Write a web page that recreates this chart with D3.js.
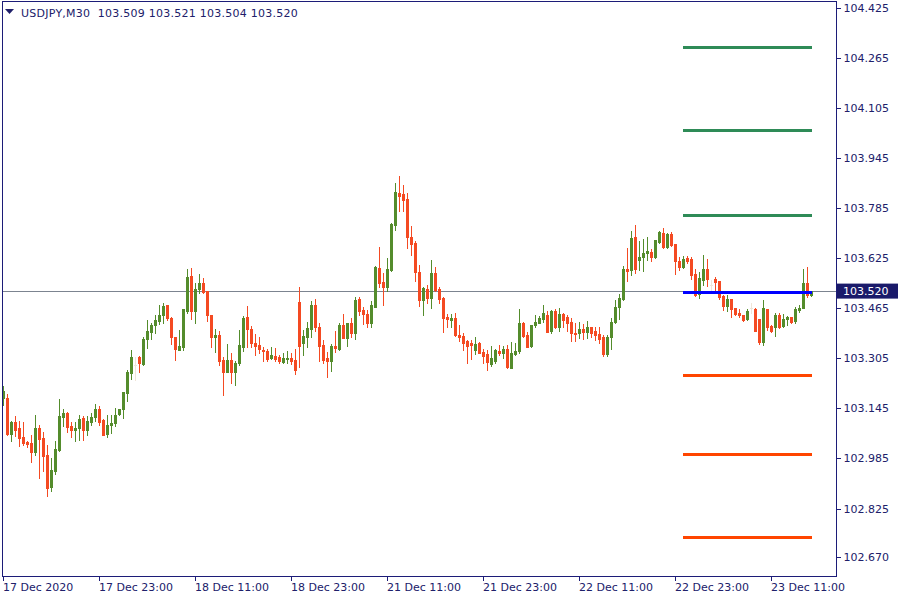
<!DOCTYPE html>
<html>
<head>
<meta charset="utf-8">
<script src="https://cdn.jsdelivr.net/npm/d3@7/dist/d3.min.js"></script>
<style>
  html, body { margin: 0; padding: 0; background: #ffffff; }
  svg { display: block; font-family: "DejaVu Sans", Verdana, sans-serif; }
</style>
</head>
<body>
<svg id="chart" width="900" height="600"></svg>
<script>
// ---------- DATA ----------
const symbolTitle = "USDJPY,M30";
const lastBar = ["103.509", "103.521", "103.504", "103.520"];

const opens = [103.178,103.178,103.063,103.101,103.082,103.053,103.037,103.034,103.005,103.082,
103.050,102.996,102.893,102.944,103.012,103.117,103.130,103.088,103.076,103.082,
103.114,103.076,103.101,103.117,103.143,103.108,103.063,103.092,103.098,103.127,
103.143,103.194,103.258,103.284,103.309,103.287,103.367,103.389,103.412,103.424,
103.444,103.476,103.434,103.373,103.332,103.341,103.456,103.568,103.456,103.527,
103.546,103.520,103.444,103.373,103.380,103.300,103.261,103.300,103.261,103.290,
103.341,103.437,103.399,103.354,103.348,103.332,103.328,103.306,103.312,103.309,
103.293,103.303,103.306,103.300,103.485,103.354,103.373,103.399,103.476,103.405,
103.348,103.306,103.296,103.344,103.335,103.412,103.370,103.418,103.386,103.495,
103.460,103.447,103.418,103.469,103.594,103.549,103.533,103.588,103.732,103.834,
103.831,103.815,103.693,103.674,103.581,103.492,103.527,103.498,103.578,103.527,
103.498,103.437,103.428,103.434,103.380,103.376,103.360,103.354,103.332,103.354,
103.325,103.319,103.287,103.296,103.328,103.322,103.335,103.274,103.319,103.328,
103.418,103.380,103.344,103.412,103.418,103.431,103.444,103.392,103.456,103.405,
103.447,103.437,103.421,103.386,103.386,103.399,103.389,103.405,103.392,103.383,
103.373,103.319,103.373,103.421,103.469,103.495,103.591,103.588,103.693,103.620,
103.629,103.642,103.645,103.629,103.677,103.706,103.661,103.703,103.671,103.616,
103.597,103.626,103.623,103.575,103.511,103.556,103.591,103.540,103.559,103.552,
103.504,103.472,103.495,103.466,103.450,103.444,103.431,103.466,103.463,103.431,
103.357,103.463,103.408,103.405,103.444,103.408,103.431,103.437,103.424,103.460,
103.466,103.546,103.509];

const highs = [103.216,103.191,103.104,103.120,103.104,103.101,103.040,103.060,103.124,103.092,
103.069,103.028,102.986,103.040,103.175,103.143,103.133,103.101,103.101,103.124,
103.120,103.120,103.130,103.159,103.152,103.111,103.124,103.124,103.146,103.143,
103.197,103.268,103.332,103.309,103.312,103.373,103.428,103.418,103.444,103.476,
103.482,103.476,103.437,103.373,103.396,103.463,103.591,103.594,103.546,103.575,
103.562,103.520,103.444,103.399,103.392,103.309,103.351,103.322,103.296,103.396,
103.440,103.472,103.408,103.383,103.373,103.341,103.335,103.341,103.338,103.316,
103.322,103.328,103.322,103.335,103.533,103.396,103.421,103.488,103.495,103.418,
103.364,103.325,103.351,103.392,103.418,103.447,103.418,103.434,103.501,103.501,
103.469,103.460,103.488,103.600,103.661,103.578,103.626,103.738,103.866,103.888,
103.860,103.834,103.728,103.680,103.604,103.533,103.540,103.620,103.597,103.533,
103.501,103.447,103.447,103.450,103.412,103.386,103.364,103.364,103.373,103.357,
103.335,103.332,103.344,103.335,103.348,103.344,103.348,103.357,103.354,103.463,
103.421,103.389,103.412,103.444,103.440,103.476,103.456,103.460,103.463,103.466,
103.450,103.444,103.434,103.418,103.421,103.415,103.424,103.405,103.405,103.405,
103.380,103.380,103.434,103.492,103.511,103.600,103.658,103.712,103.732,103.680,
103.687,103.693,103.655,103.684,103.712,103.722,103.706,103.709,103.671,103.629,
103.632,103.632,103.629,103.591,103.581,103.636,103.623,103.556,103.565,103.552,
103.508,103.508,103.495,103.466,103.463,103.444,103.463,103.482,103.466,103.431,
103.492,103.463,103.412,103.450,103.450,103.447,103.440,103.437,103.469,103.476,
103.591,103.597,103.521];

const lows = [103.156,103.060,103.040,103.056,103.024,103.028,103.021,102.973,102.996,102.922,
102.944,102.864,102.880,102.935,103.008,103.088,103.069,103.053,103.040,103.044,
103.044,103.060,103.092,103.104,103.092,103.060,103.053,103.066,103.088,103.124,
103.114,103.168,103.239,103.236,103.261,103.284,103.338,103.367,103.386,103.415,
103.418,103.428,103.351,103.300,103.332,103.332,103.450,103.431,103.418,103.514,
103.514,103.424,103.341,103.325,103.284,103.188,103.261,103.226,103.220,103.284,
103.328,103.341,103.341,103.316,103.322,103.296,103.296,103.303,103.296,103.290,
103.290,103.290,103.287,103.255,103.277,103.316,103.341,103.373,103.392,103.296,
103.290,103.245,103.264,103.325,103.332,103.370,103.344,103.373,103.367,103.444,
103.415,103.405,103.405,103.469,103.533,103.476,103.520,103.584,103.716,103.776,
103.776,103.658,103.636,103.552,103.472,103.444,103.482,103.466,103.520,103.482,
103.389,103.405,103.405,103.376,103.360,103.332,103.290,103.303,103.319,103.322,
103.290,103.268,103.280,103.290,103.316,103.306,103.274,103.274,103.316,103.322,
103.373,103.341,103.341,103.405,103.418,103.421,103.389,103.386,103.402,103.392,
103.405,103.392,103.360,103.360,103.370,103.367,103.370,103.373,103.364,103.354,
103.312,103.312,103.335,103.418,103.431,103.492,103.552,103.572,103.578,103.588,
103.584,103.620,103.616,103.626,103.674,103.658,103.658,103.664,103.575,103.588,
103.594,103.610,103.559,103.504,103.498,103.540,103.536,103.524,103.520,103.495,
103.460,103.456,103.437,103.444,103.437,103.424,103.428,103.450,103.392,103.351,
103.348,103.396,103.389,103.376,103.402,103.405,103.412,103.418,103.418,103.453,
103.466,103.501,103.504];

const closes = [103.200,103.063,103.101,103.076,103.050,103.034,103.031,103.005,103.082,103.047,
102.992,102.890,102.948,103.015,103.120,103.130,103.085,103.076,103.082,103.111,
103.076,103.104,103.117,103.143,103.101,103.060,103.092,103.098,103.124,103.143,
103.197,103.261,103.309,103.284,103.290,103.367,103.392,103.412,103.428,103.444,
103.472,103.434,103.373,103.335,103.344,103.463,103.565,103.456,103.527,103.546,
103.517,103.444,103.373,103.380,103.296,103.261,103.300,103.261,103.290,103.348,
103.434,103.399,103.354,103.344,103.335,103.328,103.303,103.316,103.303,103.296,
103.306,103.306,103.296,103.268,103.344,103.376,103.402,103.476,103.405,103.344,
103.300,103.296,103.344,103.338,103.412,103.370,103.418,103.386,103.492,103.456,
103.447,103.418,103.476,103.597,103.546,103.533,103.591,103.735,103.837,103.824,
103.812,103.693,103.671,103.581,103.492,103.530,103.498,103.578,103.524,103.495,
103.434,103.431,103.434,103.380,103.373,103.354,103.344,103.348,103.351,103.322,
103.312,103.293,103.306,103.332,103.322,103.335,103.277,103.322,103.328,103.418,
103.376,103.341,103.412,103.421,103.434,103.450,103.389,103.456,103.405,103.447,
103.428,103.418,103.386,103.383,103.399,103.389,103.405,103.386,103.380,103.367,
103.319,103.373,103.421,103.469,103.498,103.591,103.584,103.690,103.591,103.629,
103.642,103.648,103.629,103.684,103.709,103.661,103.703,103.668,103.616,103.597,
103.623,103.616,103.572,103.508,103.562,103.591,103.559,103.540,103.549,103.501,
103.472,103.495,103.463,103.447,103.444,103.428,103.456,103.466,103.392,103.357,
103.466,103.405,103.392,103.444,103.405,103.431,103.437,103.421,103.463,103.466,
103.546,103.508,103.520];

const timeLabels = ["17 Dec 2020","17 Dec 23:00","18 Dec 11:00","18 Dec 23:00","21 Dec 11:00",
                    "21 Dec 23:00","22 Dec 11:00","22 Dec 23:00","23 Dec 11:00"];
const timeLabelBars = [0, 24, 48, 72, 96, 120, 144, 168, 192];
const priceTicks = [104.425,104.265,104.105,103.945,103.785,103.625,103.465,103.305,103.145,102.985,102.825,102.670];

const resistanceLevels = [104.300, 104.032, 103.763];
const pivotLevel = 103.515;
const supportLevels = [103.249, 102.999, 102.731];
const levelStartBar = 170;
const currentPrice = 103.520;

// ---------- STYLE ----------
const navy = "#1c1c78";
const textCol = "#20206a";
const bullCol = "#548c2c";
const bearCol = "#f44a22";
const dojiCol = "#efe5d8";

// ---------- SCALES ----------
const n = closes.length;
const x = d3.scaleLinear().domain([0, n - 1]).range([3, 3 + 4 * (n - 1)]);
const y = d3.scaleLinear().domain([102.670, 104.425]).range([557, 8]);

const svg = d3.select("#chart");
const plotLeft = 2, plotRight = 836, plotTop = 1, plotBottom = 576;

svg.append("rect").attr("width", 900).attr("height", 600).attr("fill", "#ffffff");

svg.append("clipPath").attr("id", "plotClip").append("rect")
  .attr("x", plotLeft + 1).attr("y", plotTop + 1)
  .attr("width", plotRight - plotLeft - 1).attr("height", plotBottom - plotTop - 1);

const plot = svg.append("g").attr("clip-path", "url(#plotClip)").attr("shape-rendering", "crispEdges");

// current price line
plot.append("line")
  .attr("x1", plotLeft).attr("x2", plotRight)
  .attr("y1", Math.round(y(currentPrice)) + 0.5).attr("y2", Math.round(y(currentPrice)) + 0.5)
  .attr("stroke", "#7c8490").attr("stroke-width", 1);

// candles
const idx = d3.range(n);
const g = plot.append("g");
idx.forEach(i => {
  const o = opens[i], h = highs[i], l = lows[i], c = closes[i];
  const col = c > o ? bullCol : (c < o ? bearCol : dojiCol);
  const cx = Math.round(x(i));
  const yh = Math.round(y(h)), yl = Math.round(y(l));
  g.append("rect").attr("x", cx).attr("y", yh).attr("width", 1)
    .attr("height", Math.max(1, yl - yh + 1)).attr("fill", col);
  const yo = Math.round(y(o)), yc = Math.round(y(c));
  const top = Math.min(yo, yc), bot = Math.max(yo, yc);
  g.append("rect").attr("x", cx - 1).attr("y", top).attr("width", 3)
    .attr("height", Math.max(1, bot - top + 1)).attr("fill", col);
});

// level lines
const lx1 = x(levelStartBar), lx2 = x(n - 1) + 1;
resistanceLevels.forEach(v => {
  plot.append("line").attr("x1", lx1).attr("x2", lx2)
    .attr("y1", y(v)).attr("y2", y(v))
    .attr("stroke", "#2e8b57").attr("stroke-width", 3);
});
supportLevels.forEach(v => {
  plot.append("line").attr("x1", lx1).attr("x2", lx2)
    .attr("y1", y(v)).attr("y2", y(v))
    .attr("stroke", "#ff4500").attr("stroke-width", 3);
});
plot.append("line").attr("x1", lx1).attr("x2", lx2)
  .attr("y1", y(pivotLevel)).attr("y2", y(pivotLevel))
  .attr("stroke", "#0000ff").attr("stroke-width", 3.5);

// frame
svg.append("rect")
  .attr("x", plotLeft + 0.5).attr("y", plotTop + 0.5)
  .attr("width", plotRight - plotLeft).attr("height", plotBottom - plotTop)
  .attr("fill", "none").attr("stroke", navy).attr("stroke-width", 1)
  .attr("shape-rendering", "crispEdges");

// price axis
const yAxis = d3.axisRight(y).tickValues(priceTicks).tickSize(4).tickPadding(3)
  .tickFormat(d3.format(".3f"));
const ya = svg.append("g").attr("transform", `translate(${plotRight + 0.5},0)`).call(yAxis);
ya.select(".domain").remove();
ya.selectAll(".tick line").attr("stroke", navy).attr("shape-rendering", "crispEdges");
ya.selectAll(".tick text").attr("fill", textCol).style("font-size", "11px")
  .style("font-family", "'DejaVu Sans', Verdana, sans-serif");

// time axis
const xAxis = d3.axisBottom(x).tickValues(timeLabelBars).tickSize(4).tickPadding(3)
  .tickFormat((d, k) => timeLabels[k]);
const xa = svg.append("g").attr("transform", `translate(0,${plotBottom + 0.5})`).call(xAxis);
xa.select(".domain").remove();
xa.selectAll(".tick line").attr("stroke", navy).attr("shape-rendering", "crispEdges");
xa.selectAll(".tick text").attr("fill", textCol).attr("text-anchor", "start").attr("dx", "-0.5")
  .style("font-size", "11px").style("font-family", "'DejaVu Sans', Verdana, sans-serif");

// current price tag
const tagY = y(currentPrice);
svg.append("rect").attr("x", plotRight + 1).attr("y", tagY - 7.5)
  .attr("width", 61).attr("height", 15).attr("fill", "#1a1a6a");
svg.append("text").attr("x", plotRight + 7).attr("y", tagY + 4)
  .attr("fill", "#ffffff").style("font-size", "11px")
  .text(d3.format(".3f")(currentPrice));

// title
svg.append("path").attr("d", "M5,9 L14,9 L9.5,14 Z").attr("fill", textCol);
svg.append("text").attr("x", 21).attr("y", 17).attr("fill", textCol)
  .style("font-size", "11px").style("white-space", "pre").style("letter-spacing", "0.25px")
  .text(symbolTitle + "  " + lastBar.join(" "));
</script>
</body>
</html>
